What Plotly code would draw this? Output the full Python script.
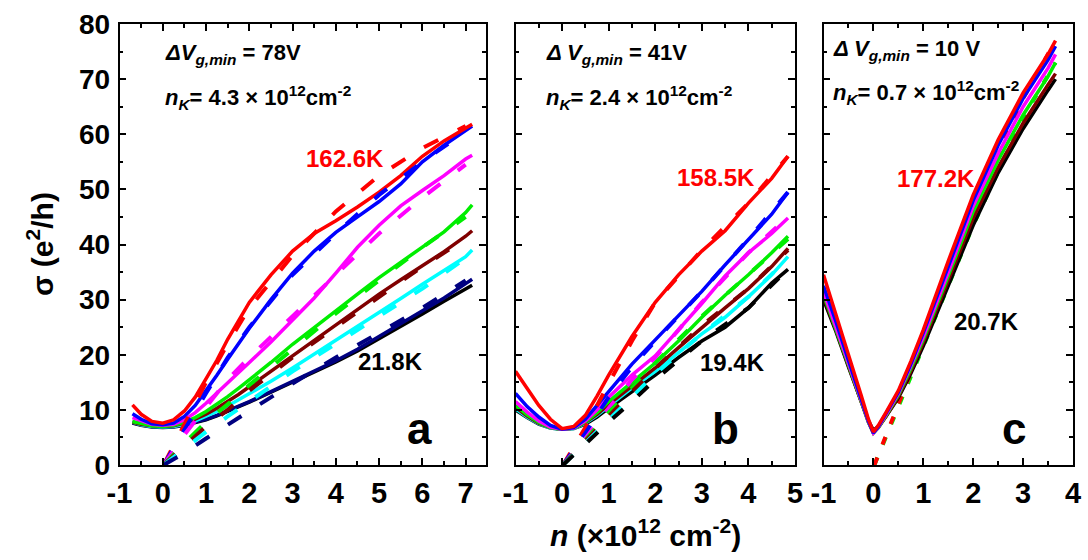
import plotly.graph_objects as go

W, H = 1088, 560

# ---------- panel a ----------
A_N = [-0.7, -0.5, -0.25, 0, 0.25, 0.5, 0.75, 1.0, 1.25, 1.5, 1.75, 2.0, 2.5, 3.0,
       3.5, 4.0, 4.5, 5.0, 5.5, 6.0, 6.5, 7.0, 7.15]
A_RED = [10.9, 9.2, 7.9, 7.6, 8.2, 9.8, 12.3, 15.5, 19.0, 22.8, 26.3, 29.5, 34.5, 38.8,
         42.0, 44.3, 46.8, 49.5, 52.5, 56.0, 58.8, 61.0, 61.8]
A_BLUE = [9.3, 8.3, 7.5, 7.3, 7.6, 8.8, 10.8, 13.5, 16.3, 19.2, 22.0, 24.8, 30.0, 34.8,
          38.8, 42.2, 45.0, 47.8, 51.0, 55.0, 58.0, 60.8, 61.5]
A_MAGENTA = [8.6, 8.0, 7.4, 7.2, 7.4, 8.2, 9.5, 11.2, 13.0, 14.8, 16.7, 18.6, 22.3, 26.2,
             30.3, 34.8, 39.5, 43.5, 47.0, 49.8, 52.5, 55.5, 56.2]
A_GREEN = [7.9, 7.5, 7.1, 7.0, 7.2, 7.8, 8.6, 9.7, 11.0, 12.4, 13.9, 15.4, 18.6, 21.9,
           25.0, 28.0, 31.0, 34.0, 36.8, 39.6, 42.3, 45.8, 47.2]
A_MAROON = [7.8, 7.4, 7.1, 7.0, 7.1, 7.6, 8.3, 9.2, 10.3, 11.5, 12.8, 14.2, 17.0, 19.9,
            22.7, 25.4, 28.2, 31.0, 33.6, 36.2, 38.7, 41.5, 42.5]
A_CYAN = [7.8, 7.3, 7.0, 6.9, 7.0, 7.4, 8.0, 8.8, 9.7, 10.7, 11.8, 12.9, 15.2, 17.6,
          20.1, 22.6, 25.1, 27.6, 30.2, 32.8, 35.3, 37.8, 39.0]
A_NAVY = [7.7, 7.3, 7.0, 6.9, 7.0, 7.3, 7.8, 8.3, 9.0, 9.8, 10.6, 11.5, 13.3, 15.2,
          17.0, 18.9, 21.0, 23.3, 25.6, 27.9, 30.3, 32.9, 33.7]
A_BLACK = [7.6, 7.2, 6.9, 6.8, 6.9, 7.2, 7.7, 8.2, 8.9, 9.7, 10.5, 11.4, 13.2, 15.0,
           16.8, 18.7, 20.7, 22.9, 25.1, 27.4, 29.7, 32.0, 32.6]
A_FIT_N = [0.02, 0.5, 1.0, 1.5, 2.0, 3.0, 4.0, 5.0, 6.0, 7.0]
A_FIT = {
    "#ff0000": [0, 7.5, 15.0, 22.0, 28.5, 38.0, 46.0, 52.5, 57.5, 61.5],
    "#0000ff": [0, 6.5, 13.0, 19.5, 25.0, 34.5, 42.0, 49.0, 55.0, 60.5],
    "#ff00ff": [0, 5.5, 10.5, 15.5, 19.5, 27.0, 34.5, 42.0, 48.5, 54.5],
    "#00ee00": [0, 4.0, 7.8, 11.0, 14.5, 21.0, 27.5, 33.5, 39.5, 45.0],
    "#800000": [0, 3.5, 7.0, 10.0, 13.5, 19.5, 25.0, 30.5, 36.0, 41.0],
    "#00ffff": [0, 3.0, 6.0, 8.8, 11.5, 17.0, 22.0, 27.0, 32.0, 37.5],
    "#000080": [0, 2.2, 4.8, 7.3, 9.8, 14.8, 19.5, 24.0, 28.5, 33.5],
}

# ---------- panel b ----------
B_N = [-1, -0.75, -0.5, -0.25, 0, 0.25, 0.5, 0.75, 1, 1.5, 2, 2.5, 3, 3.5, 4, 4.5, 4.85]
B_RED = [17.0, 13.8, 10.8, 8.3, 6.6, 7.0, 9.0, 12.5, 16.3, 23.3, 29.5, 34.5, 38.8, 42.5, 47.5, 52.0, 56.0]
B_BLUE = [13.0, 10.6, 8.7, 7.2, 6.5, 6.8, 8.3, 10.8, 13.5, 18.3, 22.7, 27.0, 31.5, 36.3, 41.0, 45.5, 49.5]
B_MAGENTA = [11.5, 9.6, 8.0, 6.9, 6.5, 6.7, 8.0, 10.0, 12.3, 16.3, 19.8, 24.5, 29.3, 34.3, 38.5, 42.0, 44.8]
B_GREEN = [10.8, 9.1, 7.7, 6.8, 6.5, 6.7, 7.8, 9.5, 11.5, 15.0, 18.5, 22.5, 26.8, 30.8, 34.5, 38.5, 41.5]
B_MAROON = [10.5, 8.9, 7.6, 6.8, 6.5, 6.7, 7.7, 9.2, 11.0, 14.3, 17.6, 21.3, 25.0, 28.5, 32.0, 36.0, 39.3]
B_CYAN = [10.2, 8.7, 7.5, 6.7, 6.5, 6.6, 7.6, 9.0, 10.7, 14.0, 17.0, 20.5, 23.8, 26.8, 30.5, 34.5, 37.8]
B_BLACK = [10.0, 8.6, 7.4, 6.7, 6.5, 6.6, 7.4, 8.7, 10.3, 13.3, 16.3, 19.5, 22.5, 25.0, 28.5, 33.0, 35.5]
B_FIT_N = [0.02, 0.5, 1.0, 1.5, 2.0, 3.0, 4.0, 4.85]
B_FIT = {
    "#ff0000": [0, 6.8, 14.8, 22.5, 29.5, 39.0, 47.5, 56.0],
    "#0000ff": [0, 5.8, 12.3, 17.8, 22.5, 31.5, 41.0, 49.5],
    "#ff00ff": [0, 4.8, 10.3, 15.5, 19.5, 29.5, 38.5, 45.0],
    "#00ee00": [0, 4.5, 9.5, 14.0, 18.5, 27.0, 34.5, 41.0],
    "#800000": [0, 4.3, 9.0, 13.3, 17.5, 25.3, 32.0, 39.0],
    "#00ffff": [0, 4.0, 8.3, 12.3, 16.5, 23.8, 30.5, 37.5],
    "#000000": [0, 3.8, 7.8, 11.5, 15.5, 22.5, 28.5, 35.5],
}

# ---------- panel c ----------
C_N = [-1, -0.75, -0.5, -0.25, -0.1, 0, 0.1, 0.25, 0.5, 0.75, 1, 1.5, 2, 2.5, 3, 3.5, 3.65]
C_RED = [34.5, 27.5, 20.0, 12.8, 8.3, 6.0, 7.2, 9.5, 13.5, 18.8, 24.5, 37.0, 49.0, 59.0, 67.5, 74.5, 77.0]
C_BLUE = [32.5, 26.0, 19.0, 12.2, 8.0, 5.8, 7.0, 9.3, 13.2, 18.3, 24.0, 36.0, 48.0, 58.0, 66.5, 73.5, 76.0]
C_MAGENTA = [31.5, 25.2, 18.5, 11.9, 7.9, 5.8, 6.9, 9.1, 13.0, 18.0, 23.3, 35.0, 47.0, 56.5, 65.0, 72.0, 74.5]
C_GREEN = [31.0, 24.8, 18.2, 11.7, 7.8, 5.8, 6.8, 8.9, 12.7, 17.5, 22.8, 34.3, 46.0, 55.3, 63.5, 70.5, 73.0]
C_MAROON = [30.5, 24.5, 18.0, 11.6, 7.8, 5.9, 6.8, 8.8, 12.4, 17.0, 22.2, 33.5, 44.8, 54.0, 62.0, 69.0, 71.0]
C_BLACK = [30.0, 24.2, 17.8, 11.5, 8.0, 6.3, 7.0, 8.8, 12.2, 16.6, 21.6, 32.5, 43.5, 53.0, 61.0, 68.0, 70.0]
C_FIT_N = [0.02, 0.5, 1.0, 2.0, 3.0, 3.65]
C_FIT = {
    "#00ee00": [0, 10.5, 21.5, 43.5, 63.0, 73.0],
    "#ff0000": [0, 11.0, 22.5, 46.0, 66.5, 77.0],
}

X_TICKS_A = [-1, 0, 1, 2, 3, 4, 5, 6, 7]
X_TICKS_B = [-1, 0, 1, 2, 3, 4, 5]
X_TICKS_C = [-1, 0, 1, 2, 3, 4]
Y_TICKS = [0, 10, 20, 30, 40, 50, 60, 70, 80]

FONT = "Liberation Sans, Arial, Helvetica, sans-serif"

fig = go.Figure()

panels = [
    ("x", "y", A_N, [A_RED, A_BLUE, A_MAGENTA, A_GREEN, A_MAROON, A_CYAN, A_NAVY, A_BLACK],
     ["#ff0000", "#0000ff", "#ff00ff", "#00ee00", "#800000", "#00ffff", "#000080", "#000000"],
     A_FIT_N, A_FIT, "16px,22px", False),
    ("x2", "y2", B_N, [B_RED, B_BLUE, B_MAGENTA, B_GREEN, B_MAROON, B_CYAN, B_BLACK],
     ["#ff0000", "#0000ff", "#ff00ff", "#00ee00", "#800000", "#00ffff", "#000000"],
     B_FIT_N, B_FIT, "14px,20px", False),
    ("x3", "y3", C_N, [C_BLACK, C_MAROON, C_GREEN, C_MAGENTA, C_BLUE, C_RED],
     ["#000000", "#800000", "#00ee00", "#ff00ff", "#0000ff", "#ff0000"],
     C_FIT_N, C_FIT, "8px,14px", True),
]

def add_fits(xa, ya, fn, fits, dash):
    for c, ys in fits.items():
        fig.add_trace(go.Scatter(x=fn, y=ys, mode="lines", xaxis=xa, yaxis=ya,
                                 line=dict(color=c, width=4, dash=dash),
                                 showlegend=False, hoverinfo="skip"))

for xa, ya, xs, series, cols, fn, fits, dash, fits_below in panels:
    if fits_below:
        add_fits(xa, ya, fn, fits, dash)
    order = list(zip(series, cols))
    if xa != "x3":
        order = order[::-1]
    for ys, c in order:
        fig.add_trace(go.Scatter(x=xs, y=ys, mode="lines", xaxis=xa, yaxis=ya,
                                 line=dict(color=c, width=3.5),
                                 showlegend=False, hoverinfo="skip"))
    if not fits_below:
        add_fits(xa, ya, fn, fits, dash)

def px(x):
    return x / W

def py(y):
    return 1 - y / H

def xaxis(rng, ticks, dom, anchor):
    return dict(domain=dom, range=rng, anchor=anchor,
                tickvals=ticks, ticktext=[str(t) for t in ticks],
                showline=True, linecolor="black", linewidth=1.5, mirror="ticks",
                ticks="inside", ticklen=7, tickwidth=1.5, tickcolor="black",
                showgrid=False, zeroline=False, ticklabelstandoff=1,
                tickfont=dict(family=FONT, size=29, color="black", weight="bold"),
                minor=dict(ticks="inside", ticklen=4, tickwidth=1.5, tickcolor="black",
                           dtick=0.5, showgrid=False))

def yaxis(anchor, labels):
    return dict(domain=[py(465), py(24)], anchor=anchor, range=[0, 80], tickvals=Y_TICKS,
                showticklabels=labels,
                showline=True, linecolor="black", linewidth=1.5, mirror="ticks",
                ticks="inside", ticklen=7, tickwidth=1.5, tickcolor="black",
                showgrid=False, zeroline=False, ticklabelstandoff=2,
                tickfont=dict(family=FONT, size=28, color="black", weight="bold"),
                minor=dict(ticks="inside", ticklen=4, tickwidth=1.5, tickcolor="black",
                           dtick=5, showgrid=False))

fig.update_layout(
    width=W, height=H, margin=dict(l=0, r=0, t=0, b=0, autoexpand=False),
    paper_bgcolor="white", plot_bgcolor="white",
    xaxis=xaxis([-1, 7.47], X_TICKS_A, [px(119.5), px(486)], "y"),
    xaxis2=xaxis([-1, 5.0], X_TICKS_B, [px(515.5), px(795)], "y2"),
    xaxis3=xaxis([-1, 4.0], X_TICKS_C, [px(823.5), px(1073)], "y3"),
    yaxis=yaxis("x", True),
    yaxis2=yaxis("x2", False),
    yaxis3=yaxis("x3", False),
)

def ann(text, x, y, size, color="black", xanchor="center", yanchor="middle", angle=0):
    fig.add_annotation(text=text, x=px(x), y=py(y), xref="paper", yref="paper",
                       xanchor=xanchor, yanchor=yanchor, showarrow=False, textangle=angle,
                       font=dict(family=FONT, size=size, color=color, weight="bold"))

ann("<i>ΔV</i><sub><i>g,min</i></sub> = 78V", 163, 54, 22, xanchor="left")
ann("<i>n</i><sub><i>K</i></sub>= 4.3 × 10<sup>12</sup>cm<sup>-2</sup>", 163, 97, 22, xanchor="left")
ann("<i>Δ V</i><sub><i>g,min</i></sub> = 41V", 544, 54, 22, xanchor="left")
ann("<i>n</i><sub><i>K</i></sub>= 2.4 × 10<sup>12</sup>cm<sup>-2</sup>", 544, 97, 22, xanchor="left")
ann("<i>Δ V</i><sub><i>g,min</i></sub> = 10 V", 831, 50, 22, xanchor="left")
ann("<i>n</i><sub><i>K</i></sub>= 0.7 × 10<sup>12</sup>cm<sup>-2</sup>", 831, 93, 22, xanchor="left")

ann("162.6K", 345, 158, 24, color="#ff0000")
ann("21.8K", 390, 361, 24)
ann("158.5K", 716, 177, 24, color="#ff0000")
ann("19.4K", 732, 362, 24)
ann("177.2K", 936, 178, 24, color="#ff0000")
ann("20.7K", 986, 321, 24)

ann("a", 419, 428, 44)
ann("b", 725, 428, 44)
ann("c", 1014, 428, 44)

ann("σ (e<sup>2</sup>/h)", 40, 244, 30, angle=-90)
ann("<i>n</i> (×10<sup>12</sup> cm<sup>-2</sup>)", 645, 533, 30)

fig.write_html("out.html", config={"displayModeBar": False},
               post_script="document.body.style.margin='0px';")
